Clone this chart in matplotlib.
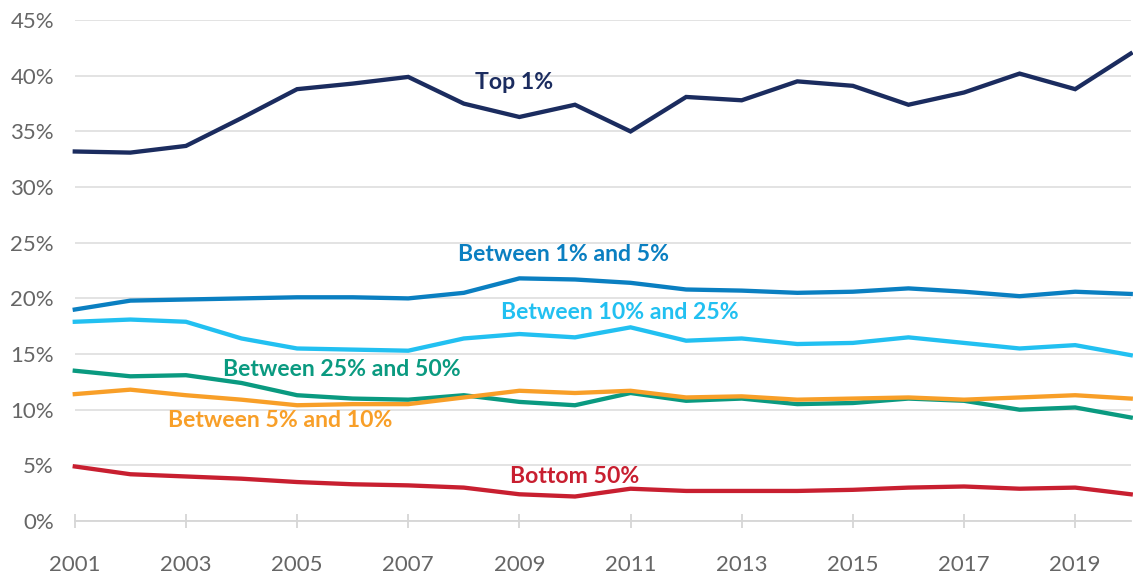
import matplotlib
matplotlib.use("Agg")
import matplotlib.pyplot as plt
from matplotlib.ticker import FuncFormatter

years = list(range(2001, 2021))

top_1 = [33.2, 33.1, 33.7, 36.2, 38.8, 39.3, 39.9, 37.5, 36.3, 37.4,
         35.0, 38.1, 37.8, 39.5, 39.1, 37.4, 38.5, 40.2, 38.8, 42.0]
between_1_5 = [19.0, 19.8, 19.9, 20.0, 20.1, 20.1, 20.0, 20.5, 21.8, 21.7,
               21.4, 20.8, 20.7, 20.5, 20.6, 20.9, 20.6, 20.2, 20.6, 20.4]
between_10_25 = [17.9, 18.1, 17.9, 16.4, 15.5, 15.4, 15.3, 16.4, 16.8, 16.5,
                 17.4, 16.2, 16.4, 15.9, 16.0, 16.5, 16.0, 15.5, 15.8, 14.9]
between_25_50 = [13.5, 13.0, 13.1, 12.4, 11.3, 11.0, 10.9, 11.3, 10.7, 10.4,
                 11.5, 10.8, 11.0, 10.5, 10.6, 11.0, 10.8, 10.0, 10.2, 9.3]
between_5_10 = [11.4, 11.8, 11.3, 10.9, 10.4, 10.5, 10.5, 11.1, 11.7, 11.5,
                11.7, 11.1, 11.2, 10.9, 11.0, 11.1, 10.9, 11.1, 11.3, 11.0]
bottom_50 = [4.9, 4.2, 4.0, 3.8, 3.5, 3.3, 3.2, 3.0, 2.4, 2.2,
             2.9, 2.7, 2.7, 2.7, 2.8, 3.0, 3.1, 2.9, 3.0, 2.4]

# (values, colour, label, label x, label y)
series = [
    (top_1, "#1b2c5f", "Top 1%", 2008.9, 39.4),
    (between_1_5, "#0a7fc1", "Between 1% and 5%", 2009.8, 23.9),
    (between_10_25, "#22c0f1", "Between 10% and 25%", 2010.8, 18.7),
    (between_25_50, "#0a9a80", "Between 25% and 50%", 2005.8, 13.6),
    (between_5_10, "#f89f28", "Between 5% and 10%", 2004.7, 9.0),
    (bottom_50, "#c81f30", "Bottom 50%", 2010.0, 4.0),
]

plt.rcParams["font.family"] = ["Lato", "DejaVu Sans"]

fig = plt.figure(figsize=(11.33, 5.76), dpi=100)
ax = fig.add_axes([0.066, 0.0955, 0.932, 0.8695])

for vals, color, label, lx, ly in series:
    ax.plot(years, vals, color=color, linewidth=3.1, solid_joinstyle="miter",
            zorder=3, clip_on=False)
    ax.text(lx, ly, label, color=color, fontsize=16.6, fontweight="bold",
            ha="center", va="center", zorder=4)

ax.set_xlim(2001, 2020)
ax.set_ylim(0, 45)
ax.set_yticks(range(0, 46, 5))
ax.yaxis.set_major_formatter(FuncFormatter(lambda v, p: f"{v:.0f}%"))
ax.set_xticks(range(2001, 2020, 2))

ax.grid(axis="y", color="#e0e0e0", linewidth=1.3, zorder=1)
ax.set_axisbelow(True)
for side in ["top", "right", "left"]:
    ax.spines[side].set_visible(False)
ax.spines["bottom"].set_color("#d6d6d6")
ax.spines["bottom"].set_linewidth(1.3)

ax.tick_params(axis="y", length=0, pad=15, labelsize=16, labelcolor="#666666")
ax.tick_params(axis="x", direction="inout", length=10, width=1.3,
               color="#d6d6d6", pad=19.5, labelsize=16, labelcolor="#666666")

fig.savefig("out.png", dpi=100)
